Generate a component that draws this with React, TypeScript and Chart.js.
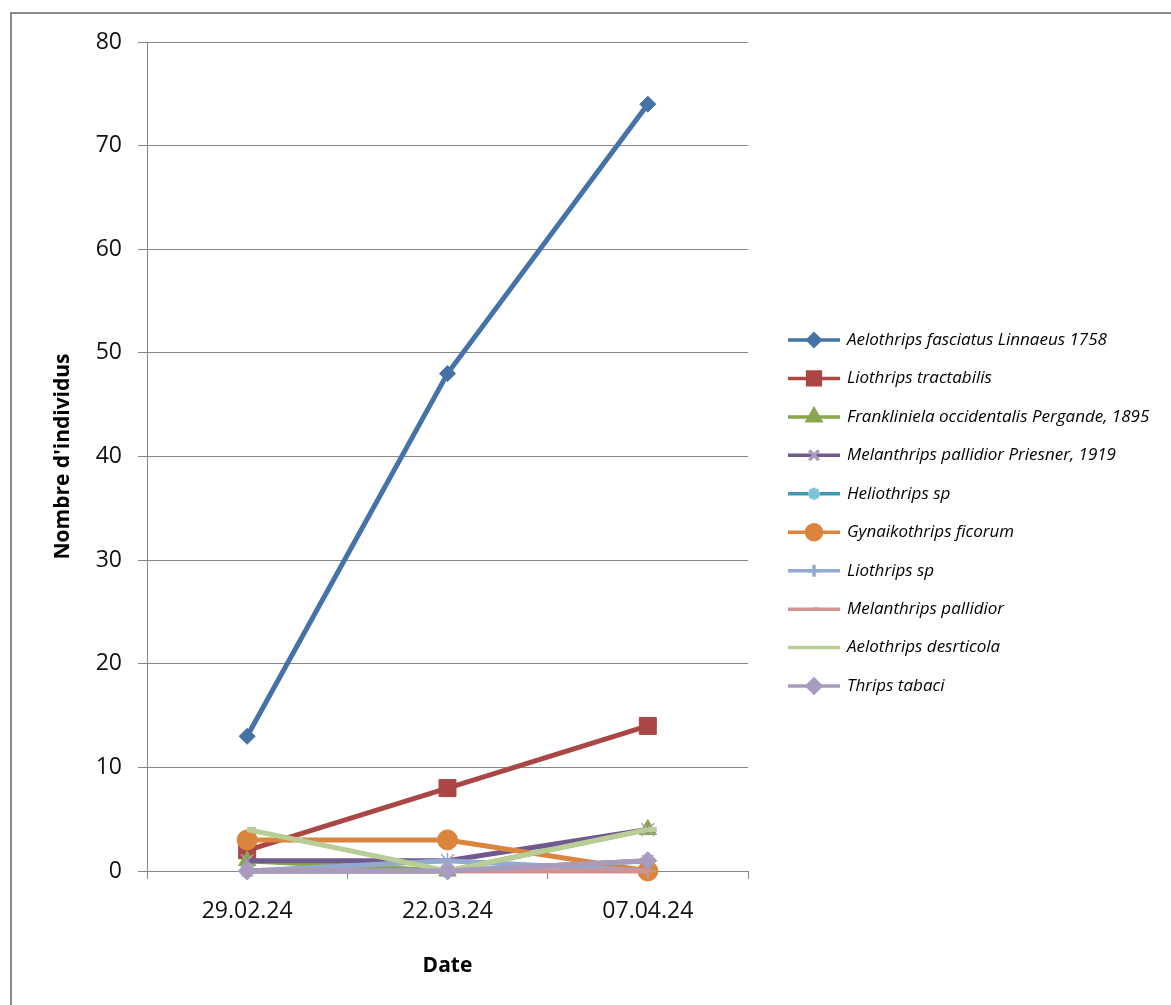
import React, { useEffect, useRef } from 'react';
import { Chart, registerables } from 'chart.js';
import * as helpers from 'chart.js/helpers';

Chart.register(...registerables);

const categories = ['29.02.24', '22.03.24', '07.04.24'];
const yTicks = [0, 10, 20, 30, 40, 50, 60, 70, 80];

const seriesNames = [
  'Aelothrips fasciatus Linnaeus 1758',
  'Liothrips tractabilis',
  'Frankliniela occidentalis Pergande, 1895',
  'Melanthrips pallidior Priesner, 1919',
  'Heliothrips sp',
  'Gynaikothrips ficorum',
  'Liothrips sp',
  'Melanthrips pallidior',
  'Aelothrips desrticola',
  'Thrips tabaci',
];

const aelothripsFasciatus = [13, 48, 74];
const liothripsTractabilis = [2, 8, 14];
const franklinielaOccidentalis = [1, 0, 4];
const melanthripsPriesner = [1, 1, 4];
const heliothripsSp = [0, 0, 1];
const gynaikothripsFicorum = [3, 3, 0];
const liothripsSp = [0, 1, 0];
const melanthripsPallidior = [0, 0, 0];
const aelothripsDesrticola = [4, 0, 4];
const thripsTabaci = [0, 0, 1];

const seriesValues = [
  aelothripsFasciatus,
  liothripsTractabilis,
  franklinielaOccidentalis,
  melanthripsPriesner,
  heliothripsSp,
  gynaikothripsFicorum,
  liothripsSp,
  melanthripsPallidior,
  aelothripsDesrticola,
  thripsTabaci,
];

const lineColors = ['#4572A7', '#AA4643', '#89A54E', '#71588F', '#4198AF', '#DB843D', '#93A9CF', '#D19392', '#B9CD96', '#A99BBD'];
const markerFill = ['#4572A7', '#AA4643', '#89A54E', '#A99BBD', '#7CC4D8', '#DB843D', '#93A9CF', '#D19392', '#B9CD96', '#A99BBD'];
const markerStyles = ['rectRot', 'rect', 'triangle', 'crossRot', 'star', 'circle', 'cross', 'dash', 'dash', 'rectRot'];
const markerRadius = [8, 12, 10, 9, 8, 10, 8, 4, 9, 9];
const markerBorder = [1, 1, 1, 1.5, 1.5, 1, 1.5, 3, 5, 1];

const FONT = '"Open Sans", "DejaVu Sans", sans-serif';

const frameAndLegend = {
  id: 'frameAndLegend',
  beforeDraw(chart: any) {
    const ctx = chart.ctx;
    ctx.save();
    ctx.fillStyle = '#ffffff';
    ctx.fillRect(0, 0, chart.width, chart.height);
    ctx.strokeStyle = '#8a8a8a';
    ctx.lineWidth = 2;
    ctx.strokeRect(11, 13, 1300, 1200);
    ctx.restore();
  },
  afterDraw(chart: any) {
    const ctx = chart.ctx;
    ctx.save();
    const x0 = 788;
    const x1 = 840;
    const tx = 847;
    chart.data.datasets.forEach((ds: any, i: number) => {
      const y = 340 + i * 38.45;
      ctx.strokeStyle = ds.borderColor;
      ctx.lineWidth = 3.5;
      ctx.beginPath();
      ctx.moveTo(x0, y);
      ctx.lineTo(x1, y);
      ctx.stroke();
      if (markerStyles[i] !== 'dash' || i === 7) {
        ctx.fillStyle = ds.pointBackgroundColor;
        ctx.strokeStyle = ds.pointBorderColor;
        helpers.drawPoint(
          ctx,
          {
            pointStyle: markerStyles[i],
            radius: i === 7 ? 4 : markerRadius[i] * 0.75,
            rotation: 0,
            borderWidth: i === 7 ? 2 : markerBorder[i],
          } as any,
          (x0 + x1) / 2,
          y
        );
      }
      ctx.fillStyle = '#000000';
      ctx.font = 'italic 17px ' + FONT;
      ctx.textAlign = 'left';
      ctx.textBaseline = 'middle';
      ctx.fillText(ds.label, tx, y);
    });
    ctx.restore();
  },
};

export default function App() {
  const canvasRef = useRef<HTMLCanvasElement | null>(null);

  useEffect(() => {
    const canvas = canvasRef.current;
    if (!canvas) return;
    const datasets = seriesNames.map((name, i) => ({
      label: name,
      data: seriesValues[i],
      borderColor: lineColors[i],
      backgroundColor: lineColors[i],
      borderWidth: 5,
      pointStyle: markerStyles[i] as any,
      pointRadius: markerRadius[i],
      pointBackgroundColor: markerFill[i],
      pointBorderColor: markerFill[i],
      pointBorderWidth: markerBorder[i],
      tension: 0,
      fill: false,
      clip: false as any,
      order: seriesNames.length - 1 - i,
    }));

    const chart = new Chart(canvas, {
      type: 'line',
      data: { labels: categories, datasets },
      options: {
        animation: false,
        responsive: false,
        devicePixelRatio: 1,
        layout: { padding: { left: 10, top: 42, right: 423, bottom: 10 } },
        plugins: { legend: { display: false }, tooltip: { enabled: false } },
        scales: {
          x: {
            type: 'category',
            offset: true,
            afterFit(scale: any) {
              scale.height = 124;
            },
            grid: {
              display: true,
              drawOnChartArea: false,
              drawTicks: true,
              tickLength: 8,
              color: '#868686',
              offset: true,
            },
            border: { color: '#868686', width: 1 },
            ticks: { color: '#111111', font: { family: FONT, size: 23 }, padding: 19, maxRotation: 0 },
            title: {
              display: true,
              text: 'Date',
              color: '#000000',
              font: { family: FONT, size: 21, weight: 'bold' },
              padding: { top: 0, bottom: 16 },
            },
          },
          y: {
            min: 0,
            max: 80,
            afterFit(scale: any) {
              scale.width = 137;
            },
            afterBuildTicks(scale: any) {
              scale.ticks = yTicks.map((v) => ({ value: v }));
            },
            grid: { color: '#868686', tickLength: 9, lineWidth: 1 },
            border: { color: '#868686', width: 1 },
            ticks: { color: '#111111', font: { family: FONT, size: 23 }, padding: 16 },
            title: {
              display: true,
              text: "Nombre d'individus",
              color: '#000000',
              font: { family: FONT, size: 21, weight: 'bold' },
              padding: { top: 40, bottom: 0 },
            },
          },
        },
      },
      plugins: [frameAndLegend],
    });
    return () => chart.destroy();
  }, []);

  return (
    <div style={{ position: 'absolute', left: 0, top: 0, width: 1171, height: 1005, background: '#fff' }}>
      <canvas ref={canvasRef} width={1171} height={1005} style={{ display: 'block', width: 1171, height: 1005 }} />
    </div>
  );
}
